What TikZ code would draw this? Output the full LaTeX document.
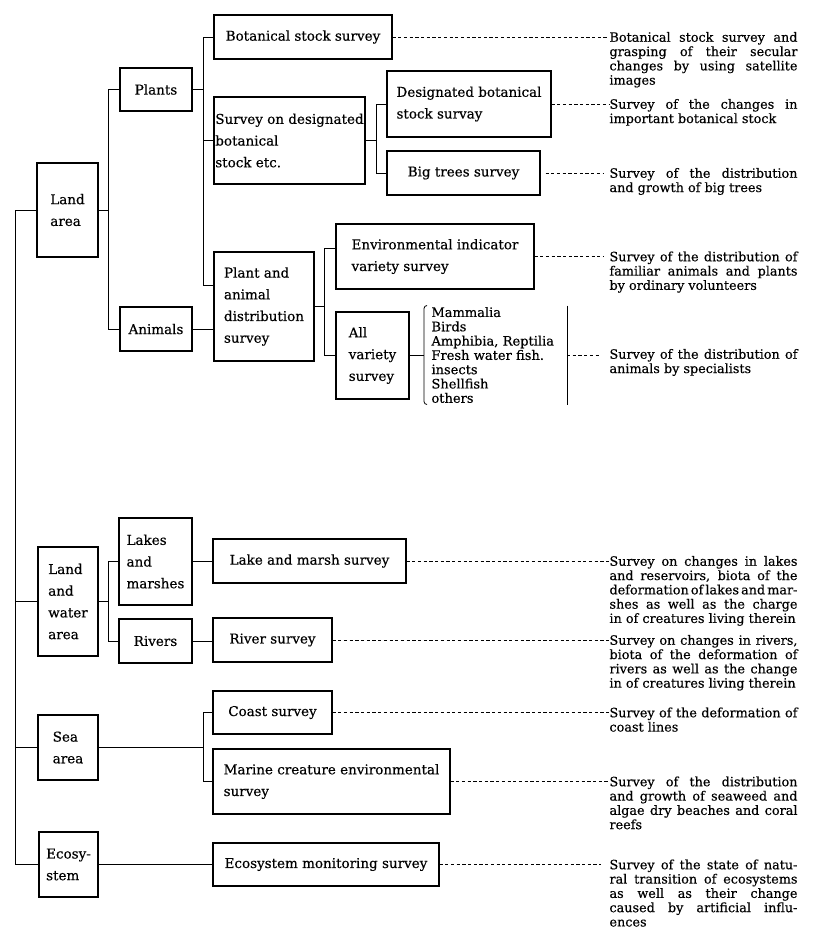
\documentclass[tikz,border=0pt]{standalone}
\usepackage{fontspec}
\setmainfont{DejaVu Serif}[FakeBold=0.4]
\newcommand{\jl}[1]{\makebox[188pt][s]{#1}}

\begin{document}
\begin{tikzpicture}[x=1pt, y=-1pt, line width=1pt,
    box/.style={draw, line width=1.1pt, inner sep=0pt, align=left, font=\fontsize{13.5}{21.7}\selectfont},
    desc/.style={anchor=north west, inner sep=0pt, align=left, font=\fontsize{12.8}{14.3}\selectfont},
    leader/.style={line width=1pt, dash pattern=on 3.2pt off 2.5pt}]
    \useasboundingbox (0,0) rectangle (813,943);

    % Land area
    \node[box, minimum width=61, minimum height=94] (land) at (67.5,210) {Land\\area};
    \node[box, minimum width=72, minimum height=43] (plants) at (156,89.5) {Plants};
    \node[box, minimum width=72, minimum height=44] (animals) at (156,329) {Animals};
    \node[box, minimum width=178, minimum height=44] (botsv) at (303,37) {Botanical stock survey};
    \node[box, minimum width=151, minimum height=87] (desig) at (289.5,140.5) {Survey on designated\\botanical\\stock etc.};
    \node[box, minimum width=164, minimum height=66] (dbsv) at (469,104) {Designated botanical\\stock survay};
    \node[box, minimum width=153, minimum height=44] (trees) at (463.5,173) {Big trees survey};
    \node[box, minimum width=100, minimum height=109] (pad) at (264,306.5) {Plant and\\animal\\distribution\\survey};
    \node[box, minimum width=198, minimum height=65] (envsv) at (435,256.5) {Environmental indicator\\variety survey};
    \node[box, minimum width=73, minimum height=87] (allv) at (372.5,355.5) {All\\variety\\survey};
    \node[anchor=west, inner xsep=7pt, inner ysep=0pt, text width=128pt, minimum height=98, align=left,
          font=\fontsize{13}{14.3}\selectfont] (taxa) at (424,355)
          {Mammalia\\Birds\\Amphibia, Reptilia\\Fresh water fish.\\insects\\Shellfish\\others};

    % Land and water area
    \node[box, minimum width=60, minimum height=109] (lwater) at (68,601.5) {Land\\and\\water\\area};
    \node[box, minimum width=73, minimum height=87] (lakes) at (155.5,561.5) {Lakes\\and\\marshes};
    \node[box, minimum width=73, minimum height=44] (rivers) at (155.5,641) {Rivers};
    \node[box, minimum width=193, minimum height=44] (lmsv) at (309.5,561) {Lake and marsh survey};
    \node[box, minimum width=119, minimum height=44] (rivsv) at (272.5,640) {River survey};

    % Sea area and ecosystem
    \node[box, minimum width=60, minimum height=65] (sea) at (68,747.5) {Sea\\area};
    \node[box, minimum width=119, minimum height=43] (coast) at (272.5,712.5) {Coast survey};
    \node[box, minimum width=237, minimum height=65] (marine) at (331.5,781.5) {Marine creature environmental\\survey};
    \node[box, minimum width=59, minimum height=65] (eco) at (68.5,864.5) {Ecosy-\\stem};
    \node[box, minimum width=226, minimum height=43] (ecosv) at (326,864.5) {Ecosystem monitoring survey};

    % Descriptions
    \node[desc] (d1) at (609,31.5) {\jl{Botanical stock survey and}\\\jl{grasping of their secular}\\\jl{changes by using satellite}\\images};
    \node[desc] (d2) at (609,98.5) {\jl{Survey of the changes in}\\important botanical stock};
    \node[desc] (d3) at (609,167.5) {\jl{Survey of the distribution}\\and growth of big trees};
    \node[desc] (d4) at (609,251) {\jl{Survey of the distribution of}\\\jl{familiar animals and plants}\\by ordinary volunteers};
    \node[desc] (d5) at (609,348.5) {\jl{Survey of the distribution of}\\animals by specialists};
    \node[desc] (d6) at (609,555.5) {\jl{Survey on changes in lakes}\\\jl{and reservoirs, biota of the}\\{\spaceskip=1pt plus 20pt\jl{deformation of lakes and mar-}}\\\jl{shes as well as the charge}\\in of creatures living therein};
    \node[desc] (d7) at (609,634.5) {\jl{Survey on changes in rivers,}\\\jl{biota of the deformation of}\\\jl{rivers as well as the change}\\in of creatures living therein};
    \node[desc] (d8) at (609,707) {\jl{Survey of the deformation of}\\coast lines};
    \node[desc] (d9) at (609,776) {\jl{Survey of the distribution}\\\jl{and growth of seaweed and}\\\jl{algae dry beaches and coral}\\reefs};
    \node[desc] (d10) at (609,859) {\jl{Survey of the state of natu-}\\\jl{ral transition of ecosystems}\\\jl{as well as their change}\\\jl{caused by artificial influ-}\\ences};

    % Trunk
    \coordinate (trunk) at (15,0);
    \draw (land.west) -- (land.west -| trunk) |- (eco.west);
    \draw (lwater.west) -- (lwater.west -| trunk);
    \draw (sea.west) -- (sea.west -| trunk);

    % Land area branches
    \coordinate (landbus) at (108,0);
    \draw (land.east) -- (land.east -| landbus);
    \draw (plants.west) -| (landbus |- animals.west) -- (animals.west);
    \coordinate (plantbus) at (203,0);
    \coordinate (padin) at ([yshift=21.5pt]pad.west);
    \draw (plants.east) -- (plants.east -| plantbus);
    \draw (botsv.west) -| (plantbus |- padin) -- (padin);
    \draw (desig.west) -- (desig.west -| plantbus);
    \draw (animals.east) -- (animals.east -| pad.west);
    \coordinate (desigbus) at (376,0);
    \draw (desig.east) -- (desig.east -| desigbus);
    \draw (dbsv.west) -| (desigbus |- trees.west) -- (trees.west);
    \coordinate (padbus) at (324,0);
    \coordinate (envin) at ([yshift=8pt]envsv.west);
    \draw (pad.east) -- (pad.east -| padbus);
    \draw (envin) -| (padbus |- allv.west) -- (allv.west);
    \draw (allv.east) -- (allv.east -| taxa.west);

    % Bracket round the list
    \draw[line width=0.8pt, rounded corners=3pt] ([xshift=3pt]taxa.north west) -- (taxa.north west)
        -- (taxa.south west) -- ([xshift=3pt]taxa.south west);
    \draw[line width=0.8pt] (taxa.north east) -- (taxa.south east);

    % Land and water area branches
    \coordinate (waterbus) at (108,0);
    \draw (lwater.east) -- (lwater.east -| waterbus);
    \draw (lakes.west) -| (waterbus |- rivers.west) -- (rivers.west);
    \draw (lakes.east) -- (lakes.east -| lmsv.west);
    \draw (rivers.east) -- (rivers.east -| rivsv.west);

    % Sea area and ecosystem branches
    \coordinate (seabus) at (203,0);
    \draw (sea.east) -- (sea.east -| seabus);
    \draw (coast.west) -| (seabus |- marine.west) -- (marine.west);
    \draw (eco.east) -- (eco.east -| ecosv.west);

    % Dashed leaders
    \draw[leader] (botsv.east) -- (botsv.east -| d1.west);
    \draw[leader] (dbsv.east) -- (dbsv.east -| d2.west);
    \draw[leader, shorten <=5pt, shorten >=6pt] (trees.east) -- (trees.east -| d3.west);
    \draw[leader, shorten >=6pt] (envsv.east) -- (envsv.east -| d4.west);
    \draw[leader, shorten >=10pt] (taxa.east) -- (taxa.east -| d5.west);
    \draw[leader] (lmsv.east) -- (lmsv.east -| d6.west);
    \draw[leader] (rivsv.east) -- (rivsv.east -| d7.west);
    \draw[leader] (coast.east) -- (coast.east -| d8.west);
    \draw[leader] (marine.east) -- (marine.east -| d9.west);
    \draw[leader, shorten >=8pt] (ecosv.east) -- (ecosv.east -| d10.west);
\end{tikzpicture}
\end{document}
